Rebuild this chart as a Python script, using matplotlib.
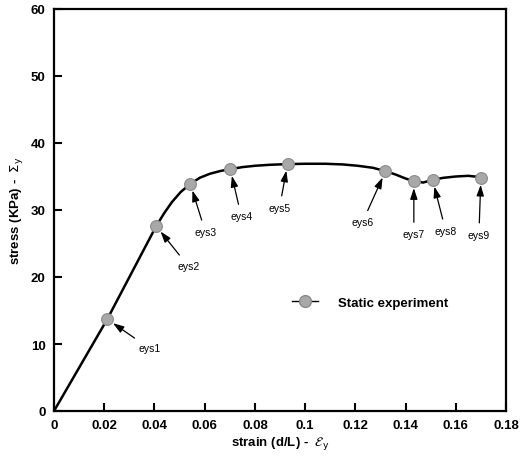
import matplotlib
matplotlib.use('Agg')
import matplotlib.pyplot as plt

plt.rcParams['font.family'] = ['Liberation Sans', 'DejaVu Sans']

# static experiment points (strain, stress)
labels = ['eys1', 'eys2', 'eys3', 'eys4', 'eys5', 'eys6', 'eys7', 'eys8', 'eys9']
strain = [0.0212, 0.0407, 0.0543, 0.0702, 0.093, 0.132, 0.1433, 0.1508, 0.170]
stress = [13.7, 27.6, 33.9, 36.1, 36.9, 35.8, 34.3, 34.5, 34.8]

# the smooth curve through them
curve_x = [0.0, 0.0212, 0.0407, 0.044, 0.047, 0.0505, 0.0543, 0.058, 0.062, 0.066,
           0.0702, 0.075, 0.08, 0.086, 0.093, 0.100, 0.108, 0.115, 0.121, 0.127,
           0.132, 0.136, 0.140, 0.1433, 0.147, 0.1508, 0.155, 0.160, 0.165, 0.170]
curve_y = [0.0, 13.7, 27.6, 29.6, 31.2, 32.7, 33.9, 34.8, 35.4, 35.8,
           36.1, 36.4, 36.6, 36.75, 36.85, 36.9, 36.9, 36.8, 36.6, 36.3,
           35.8, 35.3, 34.7, 34.3, 34.1, 34.5, 34.8, 35.0, 35.1, 34.9]

fig = plt.figure(figsize=(5.21, 4.64), dpi=100)
ax = fig.add_axes([54 / 521, 1 - 412 / 464, 452 / 521, 402 / 464])

ax.plot(curve_x, curve_y, color='black', lw=1.8, zorder=2)
ax.plot(strain, stress, ls='none', marker='o', ms=8.5, mfc='#a8a8a8', mec='#8a8a8a',
        mew=0.8, zorder=3)
# legend proxy
ax.plot([], [], color='black', lw=1.0, marker='o', ms=8.5, mfc='#a8a8a8',
        mec='#8a8a8a', label='Static experiment')

# label offsets in pixels (label centre minus marker)
offsets = [(42, -29), (32, -40), (15, -48), (11, -47), (-8, -44),
           (-23, -51), (0, -53), (13, -51), (-2, -57)]
for name, x, y, off in zip(labels, strain, stress, offsets):
    ax.annotate(name, xy=(x, y), xytext=off, textcoords='offset pixels',
                ha='center', va='center', fontsize=7.5,
                arrowprops=dict(arrowstyle='-|>,head_length=0.6,head_width=0.2',
                                color='black', lw=0.9,
                                mutation_scale=11, shrinkA=3, shrinkB=5))

ax.set_xlim(0, 0.18)
ax.set_ylim(0, 60)
ax.set_xticks([0, 0.02, 0.04, 0.06, 0.08, 0.1, 0.12, 0.14, 0.16, 0.18])
ax.set_xticklabels(['0', '0.02', '0.04', '0.06', '0.08', '0.1', '0.12', '0.14', '0.16', '0.18'])
ax.set_yticks([0, 10, 20, 30, 40, 50, 60])
ax.tick_params(direction='in', length=6, width=1.5, labelsize=9.5, pad=6)
for t in ax.get_xticklabels() + ax.get_yticklabels():
    t.set_fontweight('bold')
for s in ax.spines.values():
    s.set_linewidth(1.6)

ax.set_xlabel(r'strain (d/L) -  $\mathcal{E}_{\mathrm{y}}$', fontsize=9.5, fontweight='bold', labelpad=2)
ax.set_ylabel(r'stress (KPa) -  $\Sigma_{\mathrm{y}}$', fontsize=9.5, fontweight='bold', labelpad=4)

ax.legend(loc='center left', bbox_to_anchor=(0.5, 0.27), frameon=False,
          prop={'weight': 'bold', 'size': 9.5}, handlelength=2.0, handletextpad=1.5)

fig.savefig('out.png', dpi=100)
